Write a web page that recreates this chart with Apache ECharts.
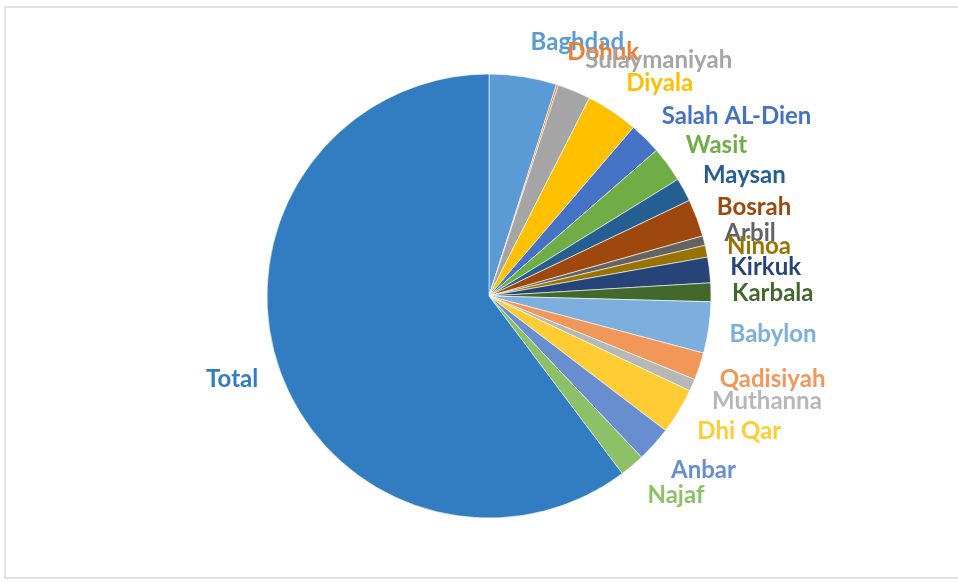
<!DOCTYPE html>
<html>
<head>
<meta charset="utf-8">
<script src="https://cdn.jsdelivr.net/npm/echarts@6/dist/echarts.min.js"></script>
<style>
html,body{margin:0;padding:0;background:#fff;}
#chart{width:958px;height:583px;}
</style>
</head>
<body>
<div id="chart"></div>
<script>
const categories = ["Baghdad","Dohuk","Sulaymaniyah","Diyala","Salah AL-Dien","Wasit","Maysan","Bosrah","Arbil","Ninoa","Kirkuk","Karbala","Babylon","Qadisiyah","Muthanna","Dhi Qar","Anbar","Najaf","Total"];
const values = [17.7,0.5,8.7,13.7,8.4,9.3,6.2,9.8,2.5,3.1,6.7,4.9,13.4,7.2,3.2,12.0,9.3,6.5,216.9];
const colors = ["#5B9BD5","#ED7D31","#A5A5A5","#FFC000","#4472C4","#70AD47","#255E91","#9E480E","#636363","#997300","#264478","#43682B","#7CAFDD","#F1975A","#B7B7B7","#FFCD33","#698ED0","#8CC168","#327DC2"];

const CX = 489, CY = 296, R = 222;
const sum = values.reduce((a,b)=>a+b,0);
const midCos = [];
let acc = 0;
values.forEach(v=>{ midCos.push(Math.cos((acc + v/2)/sum*2*Math.PI)); acc += v; });

const chart = echarts.init(document.getElementById('chart'), null, {renderer:'canvas'});
chart.setOption({
  animation:false,
  backgroundColor:'#ffffff',
  graphic:[{type:'rect', shape:{x:5,y:7,width:965,height:571}, style:{fill:'none', stroke:'#D9D9D9', lineWidth:1.5}, silent:true}],
  series:[{
    type:'pie',
    center:[CX,CY],
    radius:[0,R],
    startAngle:90,
    clockwise:true,
    avoidLabelOverlap:false,
    itemStyle:{borderColor:'#ffffff', borderWidth:0.6},
    label:{show:true, position:'outside', fontFamily:'Lato', fontWeight:'bold', fontSize:24},
    labelLine:{show:false, length:16, length2:0},
    labelLayout:function(p){
      const lx = p.labelRect.x + p.labelRect.width/2;
      const ly = p.labelRect.y + p.labelRect.height/2;
      const a = Math.atan2(ly-CY, lx-CX);
      return {dy: 12*Math.sin(a) + 2 - 9*midCos[p.dataIndex]};
    },
    data: categories.map((c,i)=>({name:c, value:values[i], itemStyle:{color:colors[i]}, label:{color:colors[i]}}))
  }]
});
</script>
</body>
</html>
